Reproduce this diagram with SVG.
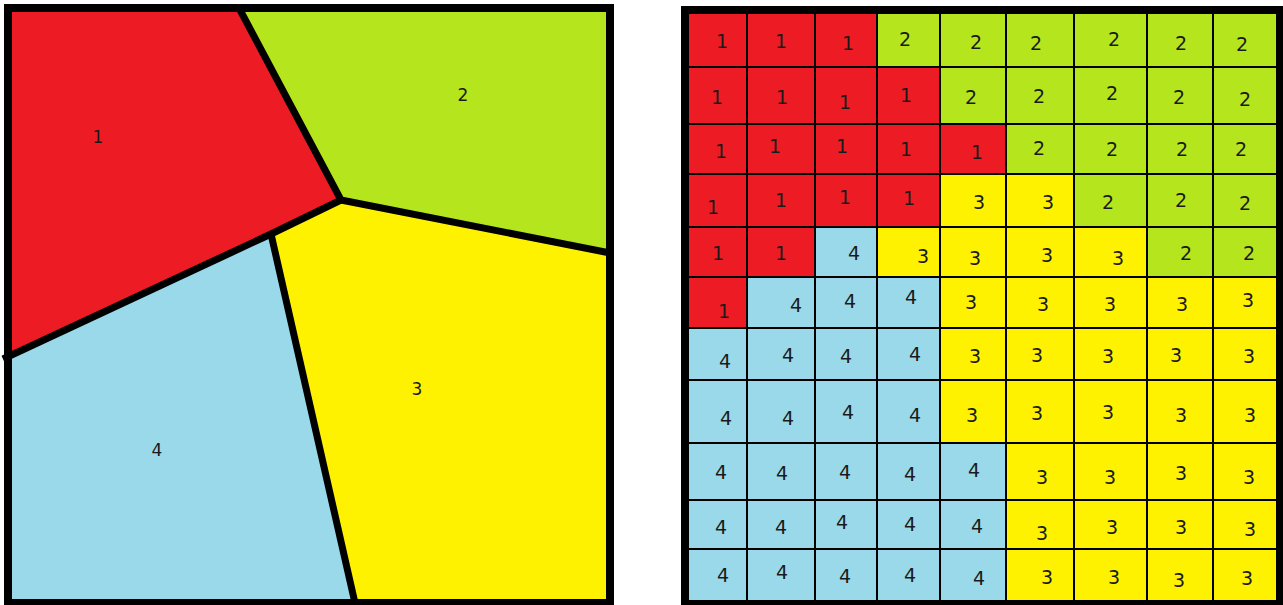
<svg xmlns="http://www.w3.org/2000/svg" width="1283" height="605" viewBox="0 0 1283 605">
<style>
.r{fill:#ED1C24}.g{fill:#B5E61D}.y{fill:#FFF200}.b{fill:#99D9EA}
.cell rect{stroke:#000;stroke-width:2}
text{font-family:"DejaVu Sans","Liberation Sans",sans-serif;font-size:19px;fill:#1a1a1a;text-anchor:middle}
.big text{font-size:17px}
.div{fill:none;stroke:#000;stroke-width:7;stroke-linejoin:round}
.frame{fill:none;stroke:#000;stroke-width:8}
</style>
<rect width="1283" height="605" fill="#fff"/>
<g id="voronoi" class="big">
<g id="region1"><polygon class="r" points="8,8 239,8 341,200 271,234 8,358"/><text x="98" y="143">1</text></g>
<g id="region2"><polygon class="g" points="239,8 610,8 610,253 341,200"/><text x="463" y="101">2</text></g>
<g id="region3"><polygon class="y" points="341,200 610,253 610,603 355,603 271,234"/><text x="417" y="395">3</text></g>
<g id="region4"><polygon class="b" points="8,358 271,234 355,603 8,603"/><text x="157" y="456">4</text></g>
<g id="dividers">
<polyline class="div" points="239,8 341,200 610,253"/>
<polyline class="div" points="341,200 271,234 3,359"/>
<polyline class="div" points="271,234 355,603"/>
</g>
<rect class="frame" x="8" y="8" width="602" height="595"/>
</g>
<g id="grid">
<g id="c1-1" class="cell"><rect class="r" x="688" y="12" width="59" height="55"/><text x="722" y="48">1</text></g>
<g id="c1-2" class="cell"><rect class="r" x="747" y="12" width="68" height="55"/><text x="781" y="48">1</text></g>
<g id="c1-3" class="cell"><rect class="r" x="815" y="12" width="62" height="55"/><text x="848" y="50">1</text></g>
<g id="c1-4" class="cell"><rect class="g" x="877" y="12" width="63" height="55"/><text x="905" y="46">2</text></g>
<g id="c1-5" class="cell"><rect class="g" x="940" y="12" width="66" height="55"/><text x="976" y="49">2</text></g>
<g id="c1-6" class="cell"><rect class="g" x="1006" y="12" width="68" height="55"/><text x="1036" y="50">2</text></g>
<g id="c1-7" class="cell"><rect class="g" x="1074" y="12" width="73" height="55"/><text x="1114" y="46">2</text></g>
<g id="c1-8" class="cell"><rect class="g" x="1147" y="12" width="66" height="55"/><text x="1181" y="50">2</text></g>
<g id="c1-9" class="cell"><rect class="g" x="1213" y="12" width="64" height="55"/><text x="1242" y="51">2</text></g>

<g id="c2-1" class="cell"><rect class="r" x="688" y="67" width="59" height="57"/><text x="717" y="104">1</text></g>
<g id="c2-2" class="cell"><rect class="r" x="747" y="67" width="68" height="57"/><text x="782" y="104">1</text></g>
<g id="c2-3" class="cell"><rect class="r" x="815" y="67" width="62" height="57"/><text x="845" y="109">1</text></g>
<g id="c2-4" class="cell"><rect class="r" x="877" y="67" width="63" height="57"/><text x="906" y="102">1</text></g>
<g id="c2-5" class="cell"><rect class="g" x="940" y="67" width="66" height="57"/><text x="971" y="104">2</text></g>
<g id="c2-6" class="cell"><rect class="g" x="1006" y="67" width="68" height="57"/><text x="1039" y="103">2</text></g>
<g id="c2-7" class="cell"><rect class="g" x="1074" y="67" width="73" height="57"/><text x="1112" y="100">2</text></g>
<g id="c2-8" class="cell"><rect class="g" x="1147" y="67" width="66" height="57"/><text x="1179" y="104">2</text></g>
<g id="c2-9" class="cell"><rect class="g" x="1213" y="67" width="64" height="57"/><text x="1245" y="106">2</text></g>

<g id="c3-1" class="cell"><rect class="r" x="688" y="124" width="59" height="50"/><text x="721" y="158">1</text></g>
<g id="c3-2" class="cell"><rect class="r" x="747" y="124" width="68" height="50"/><text x="775" y="153">1</text></g>
<g id="c3-3" class="cell"><rect class="r" x="815" y="124" width="62" height="50"/><text x="842" y="153">1</text></g>
<g id="c3-4" class="cell"><rect class="r" x="877" y="124" width="63" height="50"/><text x="906" y="156">1</text></g>
<g id="c3-5" class="cell"><rect class="r" x="940" y="124" width="66" height="50"/><text x="977" y="159">1</text></g>
<g id="c3-6" class="cell"><rect class="g" x="1006" y="124" width="68" height="50"/><text x="1039" y="155">2</text></g>
<g id="c3-7" class="cell"><rect class="g" x="1074" y="124" width="73" height="50"/><text x="1112" y="156">2</text></g>
<g id="c3-8" class="cell"><rect class="g" x="1147" y="124" width="66" height="50"/><text x="1182" y="156">2</text></g>
<g id="c3-9" class="cell"><rect class="g" x="1213" y="124" width="64" height="50"/><text x="1241" y="156">2</text></g>

<g id="c4-1" class="cell"><rect class="r" x="688" y="174" width="59" height="53"/><text x="713" y="214">1</text></g>
<g id="c4-2" class="cell"><rect class="r" x="747" y="174" width="68" height="53"/><text x="781" y="207">1</text></g>
<g id="c4-3" class="cell"><rect class="r" x="815" y="174" width="62" height="53"/><text x="845" y="204">1</text></g>
<g id="c4-4" class="cell"><rect class="r" x="877" y="174" width="63" height="53"/><text x="909" y="205">1</text></g>
<g id="c4-5" class="cell"><rect class="y" x="940" y="174" width="66" height="53"/><text x="979" y="209">3</text></g>
<g id="c4-6" class="cell"><rect class="y" x="1006" y="174" width="68" height="53"/><text x="1048" y="209">3</text></g>
<g id="c4-7" class="cell"><rect class="g" x="1074" y="174" width="73" height="53"/><text x="1108" y="209">2</text></g>
<g id="c4-8" class="cell"><rect class="g" x="1147" y="174" width="66" height="53"/><text x="1181" y="207">2</text></g>
<g id="c4-9" class="cell"><rect class="g" x="1213" y="174" width="64" height="53"/><text x="1245" y="210">2</text></g>

<g id="c5-1" class="cell"><rect class="r" x="688" y="227" width="59" height="50"/><text x="718" y="260">1</text></g>
<g id="c5-2" class="cell"><rect class="r" x="747" y="227" width="68" height="50"/><text x="781" y="260">1</text></g>
<g id="c5-3" class="cell"><rect class="b" x="815" y="227" width="62" height="50"/><text x="854" y="260">4</text></g>
<g id="c5-4" class="cell"><rect class="y" x="877" y="227" width="63" height="50"/><text x="923" y="263">3</text></g>
<g id="c5-5" class="cell"><rect class="y" x="940" y="227" width="66" height="50"/><text x="975" y="265">3</text></g>
<g id="c5-6" class="cell"><rect class="y" x="1006" y="227" width="68" height="50"/><text x="1047" y="262">3</text></g>
<g id="c5-7" class="cell"><rect class="y" x="1074" y="227" width="73" height="50"/><text x="1118" y="265">3</text></g>
<g id="c5-8" class="cell"><rect class="g" x="1147" y="227" width="66" height="50"/><text x="1186" y="260">2</text></g>
<g id="c5-9" class="cell"><rect class="g" x="1213" y="227" width="64" height="50"/><text x="1249" y="260">2</text></g>

<g id="c6-1" class="cell"><rect class="r" x="688" y="277" width="59" height="51"/><text x="724" y="318">1</text></g>
<g id="c6-2" class="cell"><rect class="b" x="747" y="277" width="68" height="51"/><text x="796" y="312">4</text></g>
<g id="c6-3" class="cell"><rect class="b" x="815" y="277" width="62" height="51"/><text x="850" y="308">4</text></g>
<g id="c6-4" class="cell"><rect class="b" x="877" y="277" width="63" height="51"/><text x="911" y="304">4</text></g>
<g id="c6-5" class="cell"><rect class="y" x="940" y="277" width="66" height="51"/><text x="971" y="309">3</text></g>
<g id="c6-6" class="cell"><rect class="y" x="1006" y="277" width="68" height="51"/><text x="1043" y="311">3</text></g>
<g id="c6-7" class="cell"><rect class="y" x="1074" y="277" width="73" height="51"/><text x="1110" y="311">3</text></g>
<g id="c6-8" class="cell"><rect class="y" x="1147" y="277" width="66" height="51"/><text x="1182" y="311">3</text></g>
<g id="c6-9" class="cell"><rect class="y" x="1213" y="277" width="64" height="51"/><text x="1248" y="307">3</text></g>

<g id="c7-1" class="cell"><rect class="b" x="688" y="328" width="59" height="52"/><text x="725" y="368">4</text></g>
<g id="c7-2" class="cell"><rect class="b" x="747" y="328" width="68" height="52"/><text x="788" y="362">4</text></g>
<g id="c7-3" class="cell"><rect class="b" x="815" y="328" width="62" height="52"/><text x="846" y="363">4</text></g>
<g id="c7-4" class="cell"><rect class="b" x="877" y="328" width="63" height="52"/><text x="915" y="361">4</text></g>
<g id="c7-5" class="cell"><rect class="y" x="940" y="328" width="66" height="52"/><text x="975" y="363">3</text></g>
<g id="c7-6" class="cell"><rect class="y" x="1006" y="328" width="68" height="52"/><text x="1037" y="362">3</text></g>
<g id="c7-7" class="cell"><rect class="y" x="1074" y="328" width="73" height="52"/><text x="1108" y="363">3</text></g>
<g id="c7-8" class="cell"><rect class="y" x="1147" y="328" width="66" height="52"/><text x="1176" y="362">3</text></g>
<g id="c7-9" class="cell"><rect class="y" x="1213" y="328" width="64" height="52"/><text x="1249" y="363">3</text></g>

<g id="c8-1" class="cell"><rect class="b" x="688" y="380" width="59" height="63"/><text x="726" y="425">4</text></g>
<g id="c8-2" class="cell"><rect class="b" x="747" y="380" width="68" height="63"/><text x="788" y="425">4</text></g>
<g id="c8-3" class="cell"><rect class="b" x="815" y="380" width="62" height="63"/><text x="848" y="419">4</text></g>
<g id="c8-4" class="cell"><rect class="b" x="877" y="380" width="63" height="63"/><text x="915" y="422">4</text></g>
<g id="c8-5" class="cell"><rect class="y" x="940" y="380" width="66" height="63"/><text x="972" y="422">3</text></g>
<g id="c8-6" class="cell"><rect class="y" x="1006" y="380" width="68" height="63"/><text x="1037" y="420">3</text></g>
<g id="c8-7" class="cell"><rect class="y" x="1074" y="380" width="73" height="63"/><text x="1108" y="419">3</text></g>
<g id="c8-8" class="cell"><rect class="y" x="1147" y="380" width="66" height="63"/><text x="1181" y="422">3</text></g>
<g id="c8-9" class="cell"><rect class="y" x="1213" y="380" width="64" height="63"/><text x="1250" y="422">3</text></g>

<g id="c9-1" class="cell"><rect class="b" x="688" y="443" width="59" height="57"/><text x="721" y="479">4</text></g>
<g id="c9-2" class="cell"><rect class="b" x="747" y="443" width="68" height="57"/><text x="782" y="480">4</text></g>
<g id="c9-3" class="cell"><rect class="b" x="815" y="443" width="62" height="57"/><text x="845" y="479">4</text></g>
<g id="c9-4" class="cell"><rect class="b" x="877" y="443" width="63" height="57"/><text x="910" y="481">4</text></g>
<g id="c9-5" class="cell"><rect class="b" x="940" y="443" width="66" height="57"/><text x="974" y="477">4</text></g>
<g id="c9-6" class="cell"><rect class="y" x="1006" y="443" width="68" height="57"/><text x="1042" y="484">3</text></g>
<g id="c9-7" class="cell"><rect class="y" x="1074" y="443" width="73" height="57"/><text x="1110" y="484">3</text></g>
<g id="c9-8" class="cell"><rect class="y" x="1147" y="443" width="66" height="57"/><text x="1181" y="480">3</text></g>
<g id="c9-9" class="cell"><rect class="y" x="1213" y="443" width="64" height="57"/><text x="1249" y="484">3</text></g>

<g id="c10-1" class="cell"><rect class="b" x="688" y="500" width="59" height="49"/><text x="721" y="534">4</text></g>
<g id="c10-2" class="cell"><rect class="b" x="747" y="500" width="68" height="49"/><text x="781" y="534">4</text></g>
<g id="c10-3" class="cell"><rect class="b" x="815" y="500" width="62" height="49"/><text x="842" y="529">4</text></g>
<g id="c10-4" class="cell"><rect class="b" x="877" y="500" width="63" height="49"/><text x="910" y="531">4</text></g>
<g id="c10-5" class="cell"><rect class="b" x="940" y="500" width="66" height="49"/><text x="977" y="533">4</text></g>
<g id="c10-6" class="cell"><rect class="y" x="1006" y="500" width="68" height="49"/><text x="1042" y="540">3</text></g>
<g id="c10-7" class="cell"><rect class="y" x="1074" y="500" width="73" height="49"/><text x="1112" y="534">3</text></g>
<g id="c10-8" class="cell"><rect class="y" x="1147" y="500" width="66" height="49"/><text x="1181" y="534">3</text></g>
<g id="c10-9" class="cell"><rect class="y" x="1213" y="500" width="64" height="49"/><text x="1250" y="536">3</text></g>

<g id="c11-1" class="cell"><rect class="b" x="688" y="549" width="59" height="52"/><text x="723" y="582">4</text></g>
<g id="c11-2" class="cell"><rect class="b" x="747" y="549" width="68" height="52"/><text x="782" y="579">4</text></g>
<g id="c11-3" class="cell"><rect class="b" x="815" y="549" width="62" height="52"/><text x="845" y="583">4</text></g>
<g id="c11-4" class="cell"><rect class="b" x="877" y="549" width="63" height="52"/><text x="910" y="582">4</text></g>
<g id="c11-5" class="cell"><rect class="b" x="940" y="549" width="66" height="52"/><text x="979" y="585">4</text></g>
<g id="c11-6" class="cell"><rect class="y" x="1006" y="549" width="68" height="52"/><text x="1047" y="584">3</text></g>
<g id="c11-7" class="cell"><rect class="y" x="1074" y="549" width="73" height="52"/><text x="1114" y="584">3</text></g>
<g id="c11-8" class="cell"><rect class="y" x="1147" y="549" width="66" height="52"/><text x="1179" y="587">3</text></g>
<g id="c11-9" class="cell"><rect class="y" x="1213" y="549" width="64" height="52"/><text x="1247" y="585">3</text></g>
<rect class="frame" x="685" y="10" width="596" height="594"/>
</g>
</svg>
